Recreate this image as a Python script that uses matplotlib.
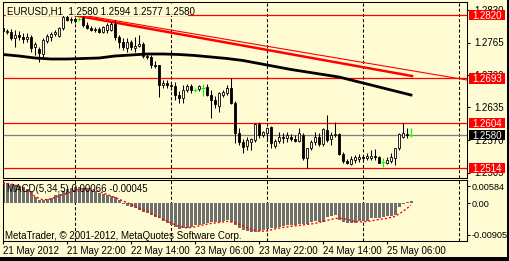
import numpy as np
import matplotlib
matplotlib.use("Agg")
import matplotlib.pyplot as plt
from matplotlib.patches import Rectangle

plt.rcParams["font.family"] = ["Liberation Sans", "DejaVu Sans"]
FS = 7
W, H = 509, 261
CREAM = "#FFFBD2"
GREY = "#6E6E6E"

# EURUSD H1 candles, 21 May 06:00 .. 25 May 12:00 (bar index 0..102)
opens = [1.2794, 1.2788, 1.2786, 1.2774, 1.2780, 1.2776, 1.2772, 1.2776, 1.2756, 1.2752,
         1.2742, 1.2768, 1.2776, 1.2782, 1.2778, 1.2794, 1.2816, 1.2810, 1.2812, 1.2812,
         1.2814, 1.2800, 1.2794, 1.2790, 1.2792, 1.2786, 1.2790, 1.2790, 1.2802, 1.2776,
         1.2766, 1.2754, 1.2766, 1.2754, 1.2758, 1.2762, 1.2738, 1.2736, 1.2720, 1.2720,
         1.2680, 1.2684, 1.2680, 1.2678, 1.2660, 1.2654, 1.2670, 1.2678, 1.2670, 1.2672,
         1.2674, 1.2676, 1.2660, 1.2650, 1.2638, 1.2660, 1.2664, 1.2674, 1.2644, 1.2584,
         1.2566, 1.2558, 1.2566, 1.2570, 1.2602, 1.2580, 1.2584, 1.2596, 1.2558, 1.2568,
         1.2576, 1.2574, 1.2576, 1.2572, 1.2568, 1.2580, 1.2534, 1.2554, 1.2566, 1.2576,
         1.2562, 1.2590, 1.2572, 1.2580, 1.2582, 1.2542, 1.2528, 1.2522, 1.2530, 1.2532,
         1.2536, 1.2534, 1.2534, 1.2538, 1.2536, 1.2526, 1.2524, 1.2528, 1.2534, 1.2554,
         1.2576, 1.2582, 1.2580]
highs = [1.2796, 1.2792, 1.2792, 1.2790, 1.2788, 1.2784, 1.2784, 1.2780, 1.2766, 1.2756,
         1.2774, 1.2782, 1.2786, 1.2790, 1.2796, 1.2820, 1.2820, 1.2816, 1.2816, 1.2816,
         1.2818, 1.2806, 1.2798, 1.2796, 1.2796, 1.2798, 1.2804, 1.2806, 1.2810, 1.2780,
         1.2774, 1.2774, 1.2770, 1.2776, 1.2780, 1.2766, 1.2744, 1.2740, 1.2728, 1.2720,
         1.2690, 1.2690, 1.2686, 1.2686, 1.2668, 1.2680, 1.2682, 1.2682, 1.2674, 1.2680,
         1.2682, 1.2682, 1.2670, 1.2658, 1.2666, 1.2670, 1.2680, 1.2694, 1.2648, 1.2594,
         1.2572, 1.2576, 1.2574, 1.2604, 1.2606, 1.2588, 1.2596, 1.2598, 1.2572, 1.2586,
         1.2584, 1.2586, 1.2582, 1.2580, 1.2594, 1.2584, 1.2554, 1.2570, 1.2586, 1.2584,
         1.2594, 1.2620, 1.2586, 1.2606, 1.2584, 1.2546, 1.2532, 1.2538, 1.2540, 1.2542,
         1.2540, 1.2544, 1.2550, 1.2552, 1.2538, 1.2534, 1.2536, 1.2544, 1.2554, 1.2584,
         1.2604, 1.2594, 1.2594]
lows = [1.2784, 1.2782, 1.2770, 1.2756, 1.2770, 1.2764, 1.2766, 1.2746, 1.2740, 1.2726,
        1.2736, 1.2764, 1.2768, 1.2778, 1.2776, 1.2790, 1.2808, 1.2804, 1.2804, 1.2808,
        1.2796, 1.2792, 1.2788, 1.2786, 1.2784, 1.2784, 1.2784, 1.2788, 1.2770, 1.2754,
        1.2750, 1.2746, 1.2750, 1.2746, 1.2756, 1.2734, 1.2732, 1.2714, 1.2714, 1.2656,
        1.2674, 1.2674, 1.2670, 1.2650, 1.2644, 1.2644, 1.2666, 1.2664, 1.2666, 1.2668,
        1.2658, 1.2658, 1.2614, 1.2634, 1.2626, 1.2656, 1.2660, 1.2642, 1.2564, 1.2560,
        1.2544, 1.2550, 1.2550, 1.2566, 1.2574, 1.2576, 1.2570, 1.2554, 1.2554, 1.2564,
        1.2564, 1.2566, 1.2568, 1.2566, 1.2566, 1.2530, 1.2514, 1.2550, 1.2560, 1.2558,
        1.2558, 1.2566, 1.2560, 1.2576, 1.2540, 1.2524, 1.2522, 1.2520, 1.2524, 1.2526,
        1.2528, 1.2530, 1.2530, 1.2530, 1.2524, 1.2516, 1.2522, 1.2524, 1.2520, 1.2550,
        1.2574, 1.2574, 1.2577]
closes = [1.2788, 1.2786, 1.2774, 1.2780, 1.2776, 1.2772, 1.2776, 1.2754, 1.2762, 1.2744,
          1.2770, 1.2778, 1.2782, 1.2786, 1.2794, 1.2816, 1.2810, 1.2812, 1.2808, 1.2812,
          1.2800, 1.2794, 1.2790, 1.2792, 1.2786, 1.2796, 1.2800, 1.2802, 1.2776, 1.2766,
          1.2756, 1.2766, 1.2756, 1.2758, 1.2762, 1.2738, 1.2736, 1.2720, 1.2718, 1.2680,
          1.2684, 1.2680, 1.2678, 1.2660, 1.2654, 1.2670, 1.2678, 1.2670, 1.2670, 1.2678,
          1.2674, 1.2660, 1.2650, 1.2642, 1.2664, 1.2666, 1.2674, 1.2644, 1.2584, 1.2566,
          1.2556, 1.2570, 1.2572, 1.2602, 1.2580, 1.2586, 1.2594, 1.2564, 1.2568, 1.2576,
          1.2574, 1.2580, 1.2572, 1.2568, 1.2584, 1.2534, 1.2554, 1.2566, 1.2576, 1.2562,
          1.2592, 1.2570, 1.2580, 1.2582, 1.2542, 1.2528, 1.2524, 1.2532, 1.2536, 1.2536,
          1.2534, 1.2538, 1.2538, 1.2536, 1.2524, 1.2526, 1.2530, 1.2536, 1.2554, 1.2582,
          1.2584, 1.2580, 1.2580]

# moving average (black), read at every 4th bar
ma_bars = [0, 4, 8, 12, 16, 20, 24, 28, 32, 36, 40, 44, 48, 52, 56, 60, 64, 68, 72,
           76, 80, 84, 88, 92, 96, 100, 102]
ma_vals = [1.2741, 1.2738, 1.2734, 1.2732, 1.2732, 1.2733, 1.2734, 1.2738, 1.2740, 1.2742,
           1.2742, 1.2741, 1.2739, 1.2736, 1.2733, 1.2729, 1.2723, 1.2717, 1.2711, 1.2706,
           1.2701, 1.2696, 1.2688, 1.2680, 1.2672, 1.2664, 1.2660]

# MACD(5,34,5) histogram, one value per bar
macd_hist = [0.00512, 0.00488, 0.00476, 0.00451, 0.00415, 0.00390, 0.00354, 0.00281, 0.00159, 0.00073,
             0.00073, 0.00110, 0.00134, 0.00195, 0.00232, 0.00293, 0.00342, 0.00366, 0.00390, 0.00390,
             0.00378, 0.00366, 0.00317, 0.00293, 0.00244, 0.00220, 0.00195, 0.00183, 0.00159, 0.00073,
             -0.00005, -0.00073, -0.00098, -0.00122, -0.00171, -0.00207, -0.00244, -0.00293, -0.00329, -0.00366,
             -0.00439, -0.00488, -0.00537, -0.00586, -0.00634, -0.00610, -0.00610, -0.00586, -0.00537, -0.00525,
             -0.00500, -0.00476, -0.00464, -0.00464, -0.00464, -0.00439, -0.00415, -0.00464, -0.00537, -0.00610,
             -0.00659, -0.00683, -0.00708, -0.00708, -0.00683, -0.00659, -0.00634, -0.00610, -0.00610, -0.00586,
             -0.00561, -0.00537, -0.00537, -0.00537, -0.00512, -0.00512, -0.00512, -0.00464, -0.00439, -0.00456,
             -0.00456, -0.00342, -0.00305, -0.00293, -0.00415, -0.00464, -0.00476, -0.00488, -0.00488, -0.00439,
             -0.00427, -0.00427, -0.00366, -0.00366, -0.00366, -0.00329, -0.00317, -0.00305, -0.00293, -0.00098,
             -0.00012, 0.00037, 0.00066]
# signal line (red dotted), read at every 2nd bar
signal_bars = [0, 2, 4, 6, 8, 10, 12, 14, 16, 18, 20, 22, 24, 26, 28, 30, 32, 34, 36, 38,
               40, 42, 44, 46, 48, 50, 52, 54, 56, 58, 60, 62, 64, 66, 68, 70, 72, 74, 76, 78,
               80, 82, 84, 86, 88, 90, 92, 94, 96, 98, 100, 102]
signal_vals = [0.00500, 0.00476, 0.00415, 0.00317, 0.00171, 0.00085, 0.00110, 0.00183, 0.00244, 0.00317,
               0.00366, 0.00354, 0.00293, 0.00220, 0.00146, 0.00061, -0.00024, -0.00122, -0.00195, -0.00293,
               -0.00378, -0.00476, -0.00561, -0.00598, -0.00573, -0.00525, -0.00488, -0.00464, -0.00439, -0.00464,
               -0.00549, -0.00634, -0.00683, -0.00671, -0.00622, -0.00586, -0.00561, -0.00537, -0.00512, -0.00488,
               -0.00439, -0.00390, -0.00354, -0.00390, -0.00439, -0.00451, -0.00427, -0.00390, -0.00366, -0.00317,
               -0.00195, -0.00045]

x_ticks = [0, 16, 32, 48, 64, 80, 96]
x_labels = ["21 May 2012", "21 May 22:00", "22 May 14:00", "23 May 06:00",
            "23 May 22:00", "24 May 14:00", "25 May 06:00"]
day_breaks = [18, 42, 66, 90, 114]
price_ticks = [1.2830, 1.2765, 1.2700, 1.2635, 1.2570, 1.2505]
red_levels = [1.2820, 1.2693, 1.2604, 1.2514]
bid = 1.2580
trend_thick = ([18.25, 102.25], [1.2819, 1.2698])
trend_thin = ([18.25, 116.0], [1.2822, 1.2690])
macd_ticks = [0.00425, 0.0, -0.00759]
macd_labels = ["0.00584", "0.00", "-0.00905"]


def frac(x0, y0, x1, y1):
    # pixel box (origin top-left) -> figure fraction rect
    return [x0 / W, 1 - y1 / H, (x1 - x0) / W, (y1 - y0) / H]


fig = plt.figure(figsize=(W / 100, H / 100), dpi=100, facecolor=CREAM)
ax = fig.add_axes(frac(2.5, 1.5, 467, 177.5), facecolor=CREAM)
ax2 = fig.add_axes(frac(2.5, 179.5, 467, 240.5), facecolor=CREAM)

# --- price panel
for d in day_breaks:
    ax.axvline(d, color="black", lw=0.75, ls=(0, (3, 2)), zorder=1)
    ax2.axvline(d, color="black", lw=0.75, ls=(0, (3, 2)), zorder=1)
for p in red_levels:
    ax.axhline(p, color="red", lw=0.9, zorder=2)
ax.axhline(bid, color="#808080", lw=0.9, zorder=2)
ax.plot(*trend_thin, color="red", lw=0.8, zorder=2)
ax.plot(*trend_thick, color="red", lw=1.8, zorder=2)
ax.plot(ma_bars, ma_vals, color="black", lw=2.0, zorder=2.5)

for i in range(len(closes)):
    o, h, l, c = opens[i], highs[i], lows[i], closes[i]
    if o == c:
        ax.vlines(i, l, h, color="#00FF00", lw=0.8, zorder=4)
        ax.hlines(c, i - 0.4, i + 0.4, color="#00FF00", lw=0.8, zorder=4)
    else:
        ax.vlines(i, l, h, color="black", lw=0.75, zorder=3)
        ax.add_patch(Rectangle((i - 0.3, min(o, c)), 0.6, abs(c - o),
                               facecolor="white" if c > o else "black",
                               edgecolor="black", lw=0.6, zorder=4))

ax.set_xlim(-0.125, 116)
ax.set_ylim(1.2495, 1.2847)
ax.set_xticks([])
ax.yaxis.tick_right()
ax.set_yticks(price_ticks)
ax.set_yticklabels([f"{p:.4f}" for p in price_ticks])
ax.tick_params(axis="y", direction="out", length=2.5, width=0.75, pad=2.5, labelsize=FS)

# --- MACD panel (bars 3 px wide, snapped to whole pixels)
bar_left = [i - 0.25 for i in range(len(macd_hist))]
ax2.bar(bar_left, macd_hist, width=0.75, align="edge", color=GREY, lw=0,
        antialiased=False, zorder=2)
ax2.plot(signal_bars, signal_vals, color="red", lw=1.0, ls=(0, (1.5, 1.5)), zorder=3)
ax2.set_xlim(-0.125, 116)
ax2.set_ylim(-0.00905, 0.00584)
ax2.yaxis.tick_right()
ax2.set_yticks(macd_ticks)
ax2.set_yticklabels(macd_labels)
ax2.tick_params(axis="y", direction="out", length=2, width=0.75, pad=1.2, labelsize=6.6)
ax2.set_xticks(x_ticks)
ax2.set_xticklabels(x_labels, ha="left")
ax2.tick_params(axis="x", direction="out", length=2.5, width=0.75, pad=1.5, labelsize=FS)

for a in (ax, ax2):
    for s in a.spines.values():
        s.set_linewidth(0.75)

# --- level labels on the price scale
def level_label(price, face):
    yd = ax.transData.transform((0, price))[1] / H
    fig.patches.append(Rectangle((469 / W, yd - 5.2 / H), 36 / W, 10.5 / H,
                                 transform=fig.transFigure, facecolor=face,
                                 edgecolor="none", zorder=5))
    fig.text(472 / W, yd - 3.6 / H, f"{price:.4f}", color="white", fontsize=FS,
             va="baseline", ha="left", zorder=6)

for p in red_levels:
    level_label(p, "red")
level_label(bid, "black")

# --- texts
fig.patches.append(Rectangle((6 / W, 1 - 15.6 / H), 182 / W, 12 / H,
                             transform=fig.transFigure, facecolor=CREAM,
                             edgecolor="none", zorder=5))
fig.text(7 / W, 1 - 15 / H,
         f"EURUSD,H1  {opens[-1]:.4f} {highs[-1]:.4f} {lows[-1]:.4f} {closes[-1]:.4f}",
         fontsize=FS, va="baseline", ha="left", zorder=6)
fig.text(7 / W, 1 - 192 / H,
         f"MACD(5,34,5) {macd_hist[-1]:.5f} {signal_vals[-1]:.5f}",
         fontsize=FS, va="baseline", ha="left", zorder=6)
fig.text(5 / W, 1 - 239 / H, "MetaTrader, \u00a9 2001-2012, MetaQuotes Software Corp.",
         fontsize=FS, va="baseline", ha="left", zorder=6)

# black window edge on the right and bottom
fig.patches.append(Rectangle((506.5 / W, 0), 2.5 / W, 1, transform=fig.transFigure,
                             facecolor="black", edgecolor="none", zorder=7))
fig.patches.append(Rectangle((0, 0), 1, 4.5 / H, transform=fig.transFigure,
                             facecolor="black", edgecolor="none", zorder=7))

fig.savefig("out.png", dpi=100, facecolor=CREAM)
